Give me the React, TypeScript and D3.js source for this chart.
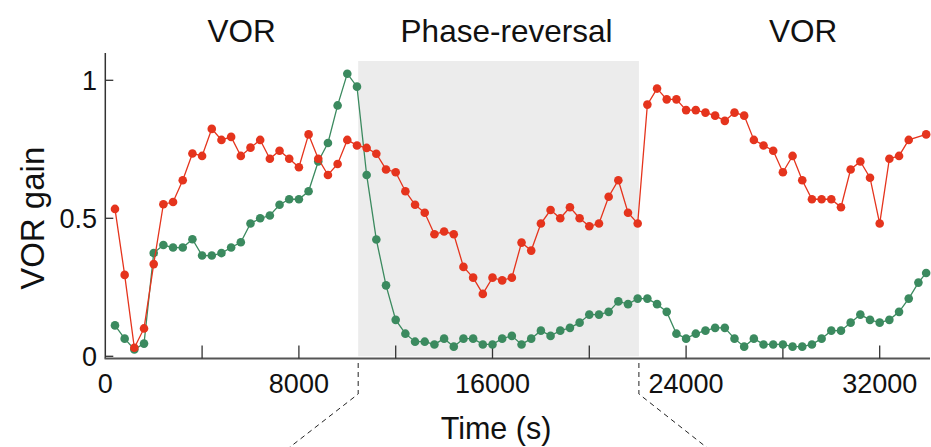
import React from "react";
import * as d3 from "d3";

const times = [
  400, 800, 1200, 1600, 2000, 2400, 2800, 3200, 3600, 4000,
  4400, 4800, 5200, 5600, 6000, 6400, 6800, 7200, 7600, 8000,
  8400, 8800, 9200, 9600, 10000, 10400, 10800, 11200, 11600, 12000,
  12400, 12800, 13200, 13600, 14000, 14400, 14800, 15200, 15600, 16000,
  16400, 16800, 17200, 17600, 18000, 18400, 18800, 19200, 19600, 20000,
  20400, 20800, 21200, 21600, 22000, 22400, 22800, 23200, 23600, 24000,
  24400, 24800, 25200, 25600, 26000, 26400, 26800, 27200, 27600, 28000,
  28400, 28800, 29200, 29600, 30000, 30400, 30800, 31200, 31600, 32000,
  32400, 32800, 33200, 33600, 33920,
];

const redGain: (number | null)[] = [
  0.534, 0.295, 0.031, 0.101, 0.334, 0.551, 0.559, 0.638, 0.735, 0.726,
  0.824, 0.784, 0.795, 0.726, 0.756, 0.784, 0.716, 0.745, 0.716, 0.685,
  0.804, 0.716, 0.657, 0.697, 0.784, 0.764, 0.755, 0.734, 0.677, 0.667,
  0.598, 0.549, 0.52, 0.442, 0.452, 0.442, 0.324, 0.285, 0.226, 0.285,
  0.275, 0.285, 0.412, 0.383, 0.481, 0.53, 0.5, 0.54, 0.5, 0.471,
  0.481, 0.578, 0.638, 0.52, 0.481, 0.912, 0.97, 0.931, 0.931, 0.892,
  0.892, 0.883, 0.872, 0.853, 0.883, 0.872, 0.784, 0.764, 0.745, 0.667,
  0.726, 0.638, 0.569, 0.569, 0.569, 0.54, 0.677, 0.706, 0.647, 0.481,
  0.716, 0.726, 0.784, null, 0.804,
];

const greenGain: (number | null)[] = [
  0.112, 0.064, 0.025, 0.046, 0.374, 0.403, 0.394, 0.394, 0.424, 0.365,
  0.365, 0.374, 0.394, 0.413, 0.481, 0.5, 0.51, 0.549, 0.569, 0.569,
  0.598, 0.706, 0.773, 0.909, 1.024, 0.977, 0.657, 0.423, 0.257, 0.132,
  0.082, 0.053, 0.053, 0.043, 0.064, 0.035, 0.064, 0.064, 0.043, 0.043,
  0.064, 0.074, 0.043, 0.064, 0.093, 0.074, 0.093, 0.103, 0.122, 0.151,
  0.151, 0.161, 0.199, 0.189, 0.209, 0.209, 0.189, 0.161, 0.082, 0.064,
  0.082, 0.093, 0.103, 0.103, 0.064, 0.035, 0.064, 0.043, 0.043, 0.043,
  0.035, 0.035, 0.043, 0.064, 0.093, 0.093, 0.122, 0.151, 0.132, 0.122,
  0.132, 0.161, 0.209, 0.267, 0.302,
];

const xTickValues = [4000, 8000, 12000, 16000, 20000, 24000, 28000, 32000];
const xTickLabels = [0, 8000, 16000, 24000, 32000];
const yTickValues = [0, 0.5, 1];
const yTickLabels = ["0", "0.5", "1"];
const phaseStart = 10450;
const phaseEnd = 22050;
const phaseTitles = ["VOR", "Phase-reversal", "VOR"];
const phaseBounds = [0, phaseStart, phaseEnd, 34050];

const RED = "#e5341d";
const GREEN = "#3b8a5f";
const FONT = "'Liberation Sans', Arial, Helvetica, sans-serif";

export default function App() {
  const W = 931;
  const H = 447;
  const x = d3.scaleLinear().domain([0, 34050]).range([105.3, 929.3]);
  const y = d3.scaleLinear().domain([0, 1]).range([356.3, 80.3]);
  const baseY = y(-0.008);

  const mk = (vals: (number | null)[]) =>
    times
      .map((t, i) => ({ t, v: vals[i] }))
      .filter((d) => d.v !== null) as { t: number; v: number }[];
  const redPts = mk(redGain);
  const greenPts = mk(greenGain);
  const line = d3
    .line<{ t: number; v: number }>()
    .x((d) => x(d.t))
    .y((d) => y(d.v));

  const titleCenters = [
    (x(phaseBounds[0]) + x(phaseBounds[1])) / 2 + 10,
    (x(phaseBounds[1]) + x(phaseBounds[2])) / 2 + 8,
    (x(phaseBounds[2]) + x(phaseBounds[3])) / 2 + 19,
  ];

  const xs = x(phaseStart);
  const xe = x(phaseEnd);

  return (
    <svg
      width={W}
      height={H}
      style={{ position: "absolute", left: 0, top: 0, background: "#fff" }}
      fontFamily={FONT}
    >
      <rect
        x={xs}
        y={y(1.07)}
        width={xe - xs}
        height={y(0) - y(1.07)}
        fill="#ececec"
      />
      {phaseTitles.map((tt, i) => (
        <text
          key={i}
          x={titleCenters[i]}
          y={41.5}
          textAnchor="middle"
          fontSize={31.5}
          fill="#111"
        >
          {tt}
        </text>
      ))}

      {/* axes */}
      <line x1={x(0)} x2={x(0)} y1={53} y2={baseY} stroke="#333" strokeWidth={1.5} />
      <line x1={x(0) - 0.75} x2={930} y1={baseY} y2={baseY} stroke="#555" strokeWidth={2} />
      {xTickValues.map((v) => (
        <line key={v} x1={x(v)} x2={x(v)} y1={baseY} y2={baseY - 13} stroke="#333" strokeWidth={1.3} />
      ))}
      {yTickValues.map((v) => (
        <line key={v} x1={x(0)} x2={x(0) + 8} y1={y(v)} y2={y(v)} stroke="#333" strokeWidth={1.3} />
      ))}
      {xTickLabels.map((v) => (
        <text key={v} x={x(v)} y={393} textAnchor="middle" fontSize={27} fill="#111">
          {v}
        </text>
      ))}
      {yTickValues.map((v, i) => (
        <text key={v} x={97} y={y(v) + 10} textAnchor="end" fontSize={27} fill="#111">
          {yTickLabels[i]}
        </text>
      ))}
      <text
        transform={`translate(44, ${y(0.5)}) rotate(-90)`}
        textAnchor="middle"
        fontSize={33}
        fill="#111"
      >
        VOR gain
      </text>
      <text x={496} y={439} textAnchor="middle" fontSize={30.5} fill="#111">
        Time (s)
      </text>

      {/* dashed zoom connectors */}
      <polyline
        points={`${xs},363 ${xs},394 ${xs - 72},450`}
        fill="none"
        stroke="#222"
        strokeWidth={1}
        strokeDasharray="5,4"
      />
      <polyline
        points={`${xe},363 ${xe},394 ${xe + 71},450`}
        fill="none"
        stroke="#222"
        strokeWidth={1}
        strokeDasharray="5,4"
      />

      {/* series */}
      <path d={line(greenPts) || ""} fill="none" stroke={GREEN} strokeWidth={1.3} />
      {greenPts.map((d, i) => (
        <circle key={"g" + i} cx={x(d.t)} cy={y(d.v)} r={4.3} fill={GREEN} />
      ))}
      <path d={line(redPts) || ""} fill="none" stroke={RED} strokeWidth={1.3} />
      {redPts.map((d, i) => (
        <circle key={"r" + i} cx={x(d.t)} cy={y(d.v)} r={4.3} fill={RED} />
      ))}
    </svg>
  );
}
